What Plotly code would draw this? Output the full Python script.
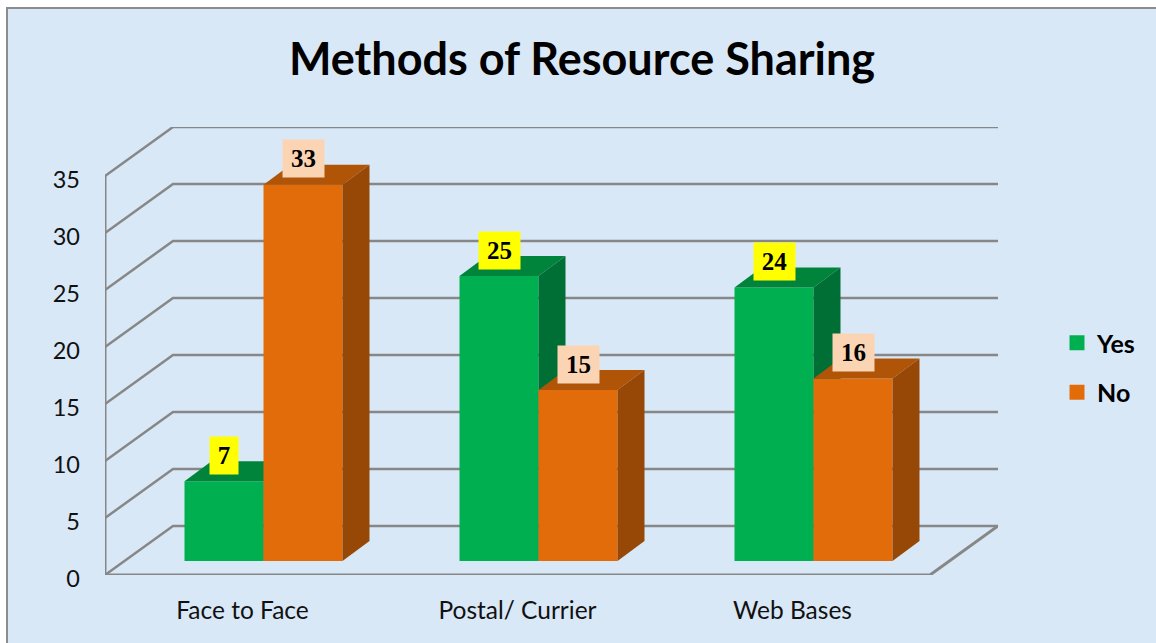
import plotly.graph_objects as go

categories = ["Face to Face", "Postal/ Currier", "Web Bases"]
yes_values = [7, 25, 24]
no_values = [33, 15, 16]
y_ticks = [0, 5, 10, 15, 20, 25, 30, 35]

# pixel scale of the fake-3D projection
PX_X, PX_Y = 275.0, 11.4
WALL_DX, WALL_DY = 68 / PX_X, 49 / PX_Y      # depth of the chart box
BAR_DX, BAR_DY = 21 / PX_X, 14 / PX_Y        # front offset of the bars
SIDE_DX, SIDE_DY = 27 / PX_X, 20 / PX_Y      # depth of a bar
BAR_W = 79 / PX_X
X0 = -0.5
X1 = 2.5

GRID = "#878787"
BG = "#d9e8f7"
GREEN, GREEN_TOP, GREEN_SIDE = "#00B050", "#00843C", "#006F35"
ORANGE, ORANGE_TOP, ORANGE_SIDE = "#E36C0A", "#B05407", "#974806"
FONT = "Lato, 'Open Sans', sans-serif"
SERIF = "'Liberation Serif', serif"

fig = go.Figure()

# walls and floor
for v in y_ticks:
    fig.add_trace(go.Scatter(
        x=[X0, X0 + WALL_DX, X1 + WALL_DX], y=[v, v + WALL_DY, v + WALL_DY],
        mode="lines", line=dict(color=GRID, width=2.5), showlegend=False, hoverinfo="skip"))
fig.add_trace(go.Scatter(
    x=[X0, X0, X1, X1 + WALL_DX], y=[max(y_ticks), 0, 0, WALL_DY],
    mode="lines", line=dict(color=GRID, width=3), showlegend=False, hoverinfo="skip"))


def add_series(name, values, shift, front, top, side, xa, ya):
    xs = [i + BAR_DX + shift for i in range(len(values))]
    fig.add_trace(go.Bar(
        x=xs, y=values, base=BAR_DY, width=BAR_W, name=name, marker=dict(color=front, line=dict(width=0)),
        xaxis=xa, yaxis=ya, showlegend=False, hoverinfo="skip"))
    # legend swatch
    fig.add_trace(go.Scatter(
        x=[None], y=[None], name=name, mode="markers", legendgroup=name,
        marker=dict(symbol="square", size=15, color=front), xaxis=xa, yaxis=ya))
    for x, v in zip(xs, values):
        l, r = x - BAR_W / 2, x + BAR_W / 2
        b, t = BAR_DY, BAR_DY + v
        fig.add_trace(go.Scatter(
            x=[l, r, r + SIDE_DX, l + SIDE_DX, l], y=[t, t, t + SIDE_DY, t + SIDE_DY, t],
            fill="toself", fillcolor=top, mode="none", showlegend=False, hoverinfo="skip", xaxis=xa, yaxis=ya))
        fig.add_trace(go.Scatter(
            x=[r, r + SIDE_DX, r + SIDE_DX, r, r], y=[b, b + SIDE_DY, t + SIDE_DY, t, b],
            fill="toself", fillcolor=side, mode="none", showlegend=False, hoverinfo="skip", xaxis=xa, yaxis=ya))
    return xs


yes_x = add_series("Yes", yes_values, -BAR_W / 2, GREEN, GREEN_TOP, GREEN_SIDE, "x2", "y2")
no_x = add_series("No", no_values, BAR_W / 2, ORANGE, ORANGE_TOP, ORANGE_SIDE, "x3", "y3")

annotations = []
for xs, vals, col in ((yes_x, yes_values, "#FFFF00"), (no_x, no_values, "#FBD4B4")):
    for x, v in zip(xs, vals):
        annotations.append(dict(
            x=x, y=BAR_DY + v, xref="x", yref="y", text=f"<b>{v}</b>", showarrow=False,
            yanchor="middle", yshift=26, bgcolor=col, width=13 + 13 * len(str(v)), height=35,
            font=dict(family=SERIF, size=25, color="black")))

rng_x = [X0, X0 + 893 / PX_X]
rng_y = [0, 448 / PX_Y]
fig.update_layout(
    width=1156, height=643, autosize=False,
    margin=dict(l=105, r=158, t=127, b=68, pad=0),
    paper_bgcolor="white", plot_bgcolor="rgba(0,0,0,0)",
    barmode="overlay",
    title=dict(text="<b>Methods of Resource Sharing</b>", x=582 / 1156, xanchor="center",
               y=1 - 59 / 643, yanchor="middle", yref="container",
               font=dict(family=FONT, size=45, color="black")),
    xaxis=dict(range=rng_x, tickvals=[0, 1, 2], ticktext=categories, showgrid=False, zeroline=False,
               showline=False, ticks="", ticklabelstandoff=18, tickfont=dict(family=FONT, size=24.5, color="#111")),
    yaxis=dict(range=rng_y, tickvals=y_ticks, showgrid=False, zeroline=False, showline=False, ticks="",
               ticklabelstandoff=24, ticklabelshift=4, tickfont=dict(family=FONT, size=23.5, color="#111")),
    xaxis2=dict(range=rng_x, overlaying="x", visible=False),
    yaxis2=dict(range=rng_y, overlaying="y", visible=False),
    xaxis3=dict(range=rng_x, overlaying="x", visible=False),
    yaxis3=dict(range=rng_y, overlaying="y", visible=False),
    legend=dict(x=(1057 - 105) / 893, y=1 - (320 - 127) / 448, xanchor="left", yanchor="top",
                bgcolor="rgba(0,0,0,0)", tracegroupgap=14, itemwidth=30,
                font=dict(family=FONT, size=25, color="black", weight="bold")),
    annotations=annotations,
    shapes=[dict(type="rect", xref="paper", yref="paper", layer="below",
                 x0=(7 - 105) / 893, x1=(1170 - 105) / 893,
                 y0=1 - (660 - 127) / 448, y1=1 - (8 - 127) / 448,
                 fillcolor=BG, line=dict(color="#8c8c8c", width=2))],
)
fig.write_html("out.html", config={"displayModeBar": False},
               post_script="document.body.style.margin='0';document.documentElement.style.overflow='hidden';")
